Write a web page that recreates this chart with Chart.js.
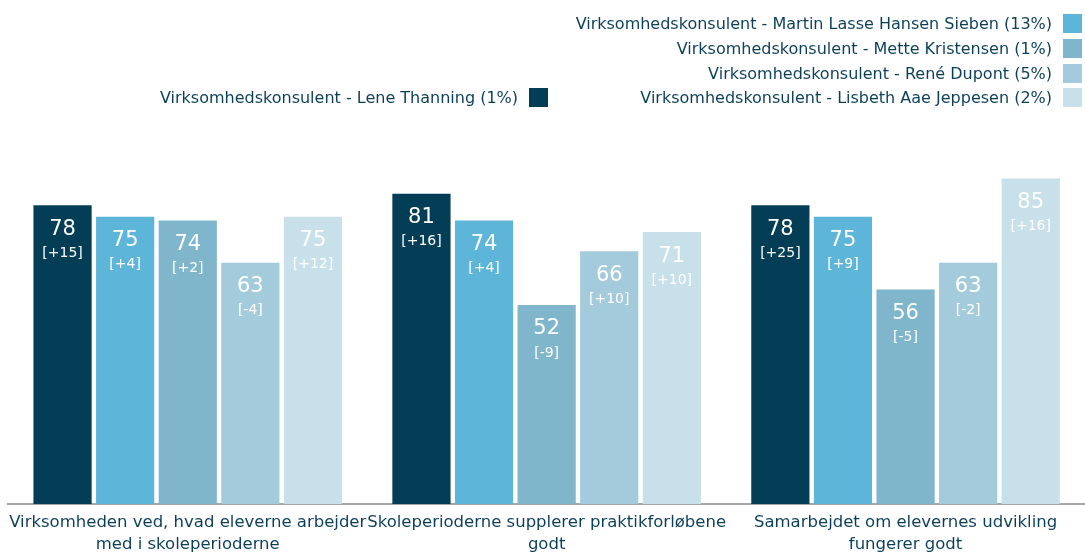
<!DOCTYPE html>
<html>
<head>
<meta charset="utf-8">
<script src="https://cdn.jsdelivr.net/npm/chart.js@4.4.0/dist/chart.umd.min.js"></script>
<style>
  html, body { margin: 0; padding: 0; background: #fff; }
  #wrap { position: relative; width: 1085px; height: 553px; }
  #legend { position: absolute; left: 0; top: 0; width: 1085px; height: 120px; font-family: "DejaVu Sans", sans-serif; font-size: 16px; color: #0b3f58; }
  .item { position: absolute; display: flex; align-items: center; white-space: nowrap; }
  .item span.box { display: inline-block; width: 19px; height: 19px; margin-left: 11px; }
</style>
</head>
<body>
<div id="wrap">
  <canvas id="chart" width="1085" height="553"></canvas>
  <div id="legend"></div>
</div>
<script>
const categories = [
    ["Virksomheden ved, hvad eleverne arbejder", "med i skoleperioderne"],
    ["Skoleperioderne supplerer praktikforløbene", "godt"],
    ["Samarbejdet om elevernes udvikling", "fungerer godt"]
];
const seriesNames = [
    "Virksomhedskonsulent - Lene Thanning (1%)",
    "Virksomhedskonsulent - Martin Lasse Hansen Sieben (13%)",
    "Virksomhedskonsulent - Mette Kristensen (1%)",
    "Virksomhedskonsulent - René Dupont (5%)",
    "Virksomhedskonsulent - Lisbeth Aae Jeppesen (2%)"
];
const colors = ['#043e56', '#5eb5da', '#7fb6cc', '#a4cbdb', '#c8e0ea'];
const lene = [78, 81, 78];
const martin = [75, 74, 75];
const mette = [74, 52, 56];
const rene = [63, 66, 63];
const lisbeth = [75, 71, 85];
const leneDiff = ['+15', '+16', '+25'];
const martinDiff = ['+4', '+4', '+9'];
const metteDiff = ['+2', '-9', '-5'];
const reneDiff = ['-4', '+10', '-2'];
const lisbethDiff = ['+12', '+10', '+16'];

const values = [lene, martin, mette, rene, lisbeth];
const diffs = [leneDiff, martinDiff, metteDiff, reneDiff, lisbethDiff];

// legend: right column with 4 rows, Lene sits left on the last row
const legendSpots = [
    { right: 537, top: 88 },
    { right: 3, top: 14 },
    { right: 3, top: 39 },
    { right: 3, top: 64 },
    { right: 3, top: 88 }
];
const legend = document.getElementById('legend');
seriesNames.forEach((name, i) => {
    const el = document.createElement('div');
    el.className = 'item';
    el.style.right = legendSpots[i].right + 'px';
    el.style.top = legendSpots[i].top + 'px';
    el.innerHTML = `<span>${name}</span><span class="box" style="background:${colors[i]}"></span>`;
    legend.appendChild(el);
});

const barLabels = {
    id: 'barLabels',
    afterDatasetsDraw(chart) {
        const ctx = chart.ctx;
        ctx.save();
        ctx.fillStyle = '#ffffff';
        ctx.textAlign = 'center';
        ctx.textBaseline = 'middle';
        chart.data.datasets.forEach((ds, i) => {
            chart.getDatasetMeta(i).data.forEach((bar, j) => {
                ctx.font = '21px "DejaVu Sans", sans-serif';
                ctx.fillText(ds.data[j], bar.x, bar.y + 24);
                ctx.font = '14px "DejaVu Sans", sans-serif';
                ctx.fillText('[' + diffs[i][j] + ']', bar.x, bar.y + 48);
            });
        });
        ctx.restore();
    }
};

new Chart(document.getElementById('chart'), {
    type: 'bar',
    data: {
        labels: categories,
        datasets: seriesNames.map((name, i) => ({
            label: name,
            data: values[i],
            backgroundColor: colors[i],
            barPercentage: 0.93,
            categoryPercentage: 0.872
        }))
    },
    options: {
        responsive: false,
        animation: false,
        layout: { padding: { top: 121, left: 7, right: 0, bottom: -11 } },
        plugins: {
            legend: { display: false },
            tooltip: { enabled: false }
        },
        scales: {
            y: { display: false, min: 0, max: 100 },
            x: {
                grid: { display: false, drawTicks: false },
                border: { display: true, color: '#a6a6a6', width: 2 },
                ticks: {
                    color: '#0b3f58',
                    padding: 8,
                    maxRotation: 0,
                    autoSkip: false,
                    font: { family: '"DejaVu Sans", sans-serif', size: 16.5, lineHeight: 1.33 }
                }
            }
        }
    },
    plugins: [barLabels]
});
</script>
</body>
</html>
